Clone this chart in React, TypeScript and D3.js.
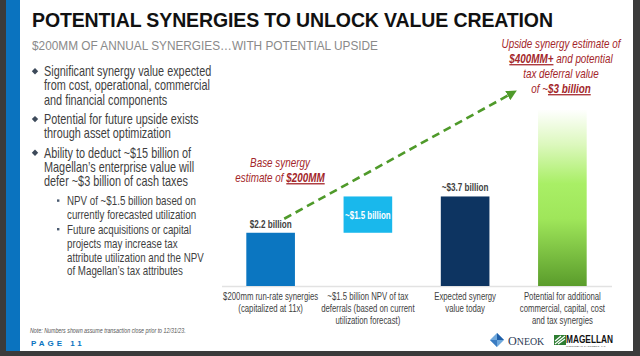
import React from "react";
import * as d3 from "d3";

const categories = ["run", "npv", "expected", "potential"];
const barBase = [0, 2.2, 0, 0];
const barValue = [2.2, 3.7, 3.7, 7.3];
const valueLabels = ["$2.2 billion", "~$1.5 billion", "~$3.7 billion", ""];
const catLabels = [
  ["$200mm run-rate synergies", "(capitalized at 11x)"],
  ["~$1.5 billion NPV of tax", "deferrals (based on current", "utilization forecast)"],
  ["Expected synergy", "value today"],
  ["Potential for additional", "commercial, capital, cost", "and tax synergies"],
];
const barColors = ["#0b76c1", "#19b8ec", "#0d3461", "url(#greenGrad)"];

const bullets = [
  { lvl: 0, lines: ["Significant synergy value expected", "from cost, operational, commercial", "and financial components"] },
  { lvl: 0, lines: ["Potential for future upside exists", "through asset optimization"] },
  { lvl: 0, lines: ["Ability to deduct ~$15 billion of", "Magellan\u2019s enterprise value will", "defer ~$3 billion of cash taxes"] },
  { lvl: 1, lines: ["NPV of ~$1.5 billion based on", "currently forecasted utilization"] },
  { lvl: 1, lines: ["Future acquisitions or capital", "projects may increase tax", "attribute utilization and the NPV", "of Magellan\u2019s tax attributes"] },
];

const SANS = "'Liberation Sans', Arial, Helvetica, sans-serif";
const RED = "#a3262a";
const GREY = "#3f3f3f";

// narrow text: Liberation Sans squeezed horizontally
function NT(props: any) {
  const { x, y, s = 0.75, children, ...rest } = props;
  return (
    <text transform={`translate(${x},${y}) scale(${s},1)`} fontFamily={SANS} {...rest}>
      {children}
    </text>
  );
}

export default function App() {
  const W = 640, H = 356;
  const x = d3.scaleBand<string>().domain(categories).range([222, 611]).paddingInner(0.5).paddingOuter(0.25);
  const y = d3.scaleLinear().domain([0, 8]).range([286, 286 - 8 * 24.2]);
  const bw = x.bandwidth();

  const rows: { lvl: number; text: string; first: boolean; y: number }[] = [];
  let cy = 76;
  bullets.forEach((b) => {
    b.lines.forEach((t, li) => {
      rows.push({ lvl: b.lvl, text: t, first: li === 0, y: cy });
      cy += b.lvl === 0 ? 14.3 : 13.8;
    });
    cy += b.lvl === 0 ? 5 : 1;
  });

  const ax0 = (x("run") as number) + bw * 0.78;
  const ay0 = y(2.2) - 14;
  const ax1 = (x("expected") as number) + bw * 1.47;
  const ay1 = y(7.97);

  return (
    <svg width={W} height={H} style={{ position: "absolute", left: 0, top: 0, background: "#fff" }}>
      <defs>
        <linearGradient id="greenGrad" x1="0" y1="0" x2="0" y2="1">
          <stop offset="0" stopColor="#ffffff" />
          <stop offset="0.2" stopColor="#dcf8bd" />
          <stop offset="0.42" stopColor="#a9ef66" />
          <stop offset="0.62" stopColor="#9fe65a" />
          <stop offset="1" stopColor="#5a9c2b" />
        </linearGradient>
        <marker id="arr" viewBox="0 0 10 10" refX="5" refY="5" markerWidth="4" markerHeight="4" orient="auto">
          <path d="M0,0 L10,5 L0,10 z" fill="#4f9a2a" />
        </marker>
      </defs>
      <rect x={0} y={0} width={W} height={H} fill="#fff" />
      {/* frame */}
      <rect x={0} y={0} width={6} height={H} fill="#3b3b3b" />
      <rect x={6} y={0} width={14} height={351} fill="#0a73bf" />
      <rect x={633} y={0} width={7} height={H} fill="#3b3b3b" />
      <rect x={0} y={351} width={W} height={5} fill="#3b3b3b" />

      {/* title */}
      <text x={32} y={27} fontFamily={SANS} fontWeight="bold" fontSize={19.5} fill="#111" textLength={521} lengthAdjust="spacing">
        POTENTIAL SYNERGIES TO UNLOCK VALUE CREATION
      </text>
      <text x={32} y={50} fontFamily={SANS} fontSize={13.5} fill="#8a8a8a" textLength={346} lengthAdjust="spacingAndGlyphs">
        $200MM OF ANNUAL SYNERGIES…WITH POTENTIAL UPSIDE
      </text>

      {/* bullets */}
      {rows.map((r, i) => (
        <g key={i}>
          {r.first && r.lvl === 0 && (
            <path d={`M${35},${r.y - 8} l3.2,3.2 l-3.2,3.2 l-3.2,-3.2 z`} fill="#3d4a5a" />
          )}
          {r.first && r.lvl === 1 && <rect x={57} y={r.y - 6} width={2.4} height={2.4} fill="#4a5a70" />}
          <NT x={r.lvl === 0 ? 44 : 67} y={r.y} s={r.lvl === 0 ? 0.777 : 0.763} fontSize={r.lvl === 0 ? 14 : 12.8} fill={GREY}>
            {r.text}
          </NT>
        </g>
      ))}

      <NT x={30} y={333} s={0.73} fontStyle="italic" fontSize={7.3} fill="#555">
        Note: Numbers shown assume transaction close prior to 12/31/23.
      </NT>
      <text x={31} y={346} fontFamily={SANS} fontWeight="bold" fontSize={8} fill="#0a73bf" letterSpacing={3}>
        PAGE 11
      </text>

      {/* baseline */}
      <line x1={222} x2={612} y1={y(0) + 0.5} y2={y(0) + 0.5} stroke="#e2e2e2" strokeWidth={1.5} />

      {/* bars */}
      {categories.map((c, i) => (
        <rect key={c} x={x(c)} y={y(barValue[i])} width={bw} height={y(barBase[i]) - y(barValue[i])} fill={barColors[i]} />
      ))}
      {categories.map((c, i) => {
        if (!valueLabels[i]) return null;
        const cx = (x(c) as number) + bw / 2;
        if (barBase[i] > 0) {
          return (
            <NT key={c} x={cx} y={(y(barValue[i]) + y(barBase[i])) / 2 + 4} s={0.72} textAnchor="middle" fontWeight="bold" fontSize={11} fill="#fff">
              {valueLabels[i]}
            </NT>
          );
        }
        return (
          <NT key={c} x={cx} y={y(barValue[i]) - 5} s={0.74} textAnchor="middle" fontWeight="bold" fontSize={11} fill={GREY}>
            {valueLabels[i]}
          </NT>
        );
      })}
      {categories.map((c, i) => (
        <NT key={c} x={(x(c) as number) + bw / 2} y={y(0) + 14} s={0.72} textAnchor="middle" fontSize={10.8} fill={GREY}>
          {catLabels[i].map((l, j) => (
            <tspan key={j} x={0} dy={j === 0 ? 0 : 12}>{l}</tspan>
          ))}
        </NT>
      ))}

      {/* arrow */}
      <line x1={ax0} y1={ay0} x2={ax1} y2={ay1} stroke="#4f9a2a" strokeWidth={2.6} strokeDasharray="8,5" markerEnd="url(#arr)" />

      {/* annotations */}
      <NT x={280} y={167} s={0.76} fontStyle="italic" fontSize={13} fill={RED} textAnchor="middle">Base synergy</NT>
      <NT x={280} y={182} s={0.76} fontStyle="italic" fontSize={13} fill={RED} textAnchor="middle">
        estimate of <tspan fontWeight="bold" textDecoration="underline">$200MM</tspan>
      </NT>
      <NT x={561} y={48} s={0.79} fontStyle="italic" fontSize={12.5} fill={RED} textAnchor="middle">Upside synergy estimate of</NT>
      <NT x={561} y={63} s={0.79} fontStyle="italic" fontSize={12.5} fill={RED} textAnchor="middle">
        <tspan fontWeight="bold" textDecoration="underline">$400MM+</tspan> and potential
      </NT>
      <NT x={561} y={78} s={0.79} fontStyle="italic" fontSize={12.5} fill={RED} textAnchor="middle">tax deferral value</NT>
      <NT x={561} y={93} s={0.79} fontStyle="italic" fontSize={12.5} fill={RED} textAnchor="middle">
        of ~<tspan fontWeight="bold" textDecoration="underline">$3 billion</tspan>
      </NT>

      {/* logos */}
      <g>
        <path d="M497,333 L504,340 L497,347 L490,340 Z" fill="#6fa8dc" />
        <path d="M497,333 L504,340 L497,340 Z" fill="#1f5fa8" />
        <path d="M490,340 L497,347 L497,340 Z" fill="#3a7cc2" />
        <NT x={508} y={345} s={0.9} fontFamily="'Liberation Serif', 'DejaVu Serif', serif" fontSize={13.5} fill="#2b3a55">
          O<tspan fontSize={11}>NEOK</tspan>
        </NT>
        <rect x={554} y={335} width={12} height={10} fill="#2e7d32" />
        <path d="M555,344 L565,336 M558,344 L565,339 M555,341 L561,336" stroke="#fff" strokeWidth={1.2} />
        <text x={566} y={343} fontFamily={SANS} fontWeight="bold" fontSize={10} fill="#111" textLength={47} lengthAdjust="spacingAndGlyphs">
          MAGELLAN
        </text>
        <text x={566} y={347} fontFamily={SANS} fontSize={2.5} fill="#333" textLength={40}>
          MIDSTREAM PARTNERS, L.P.
        </text>
      </g>
    </svg>
  );
}
